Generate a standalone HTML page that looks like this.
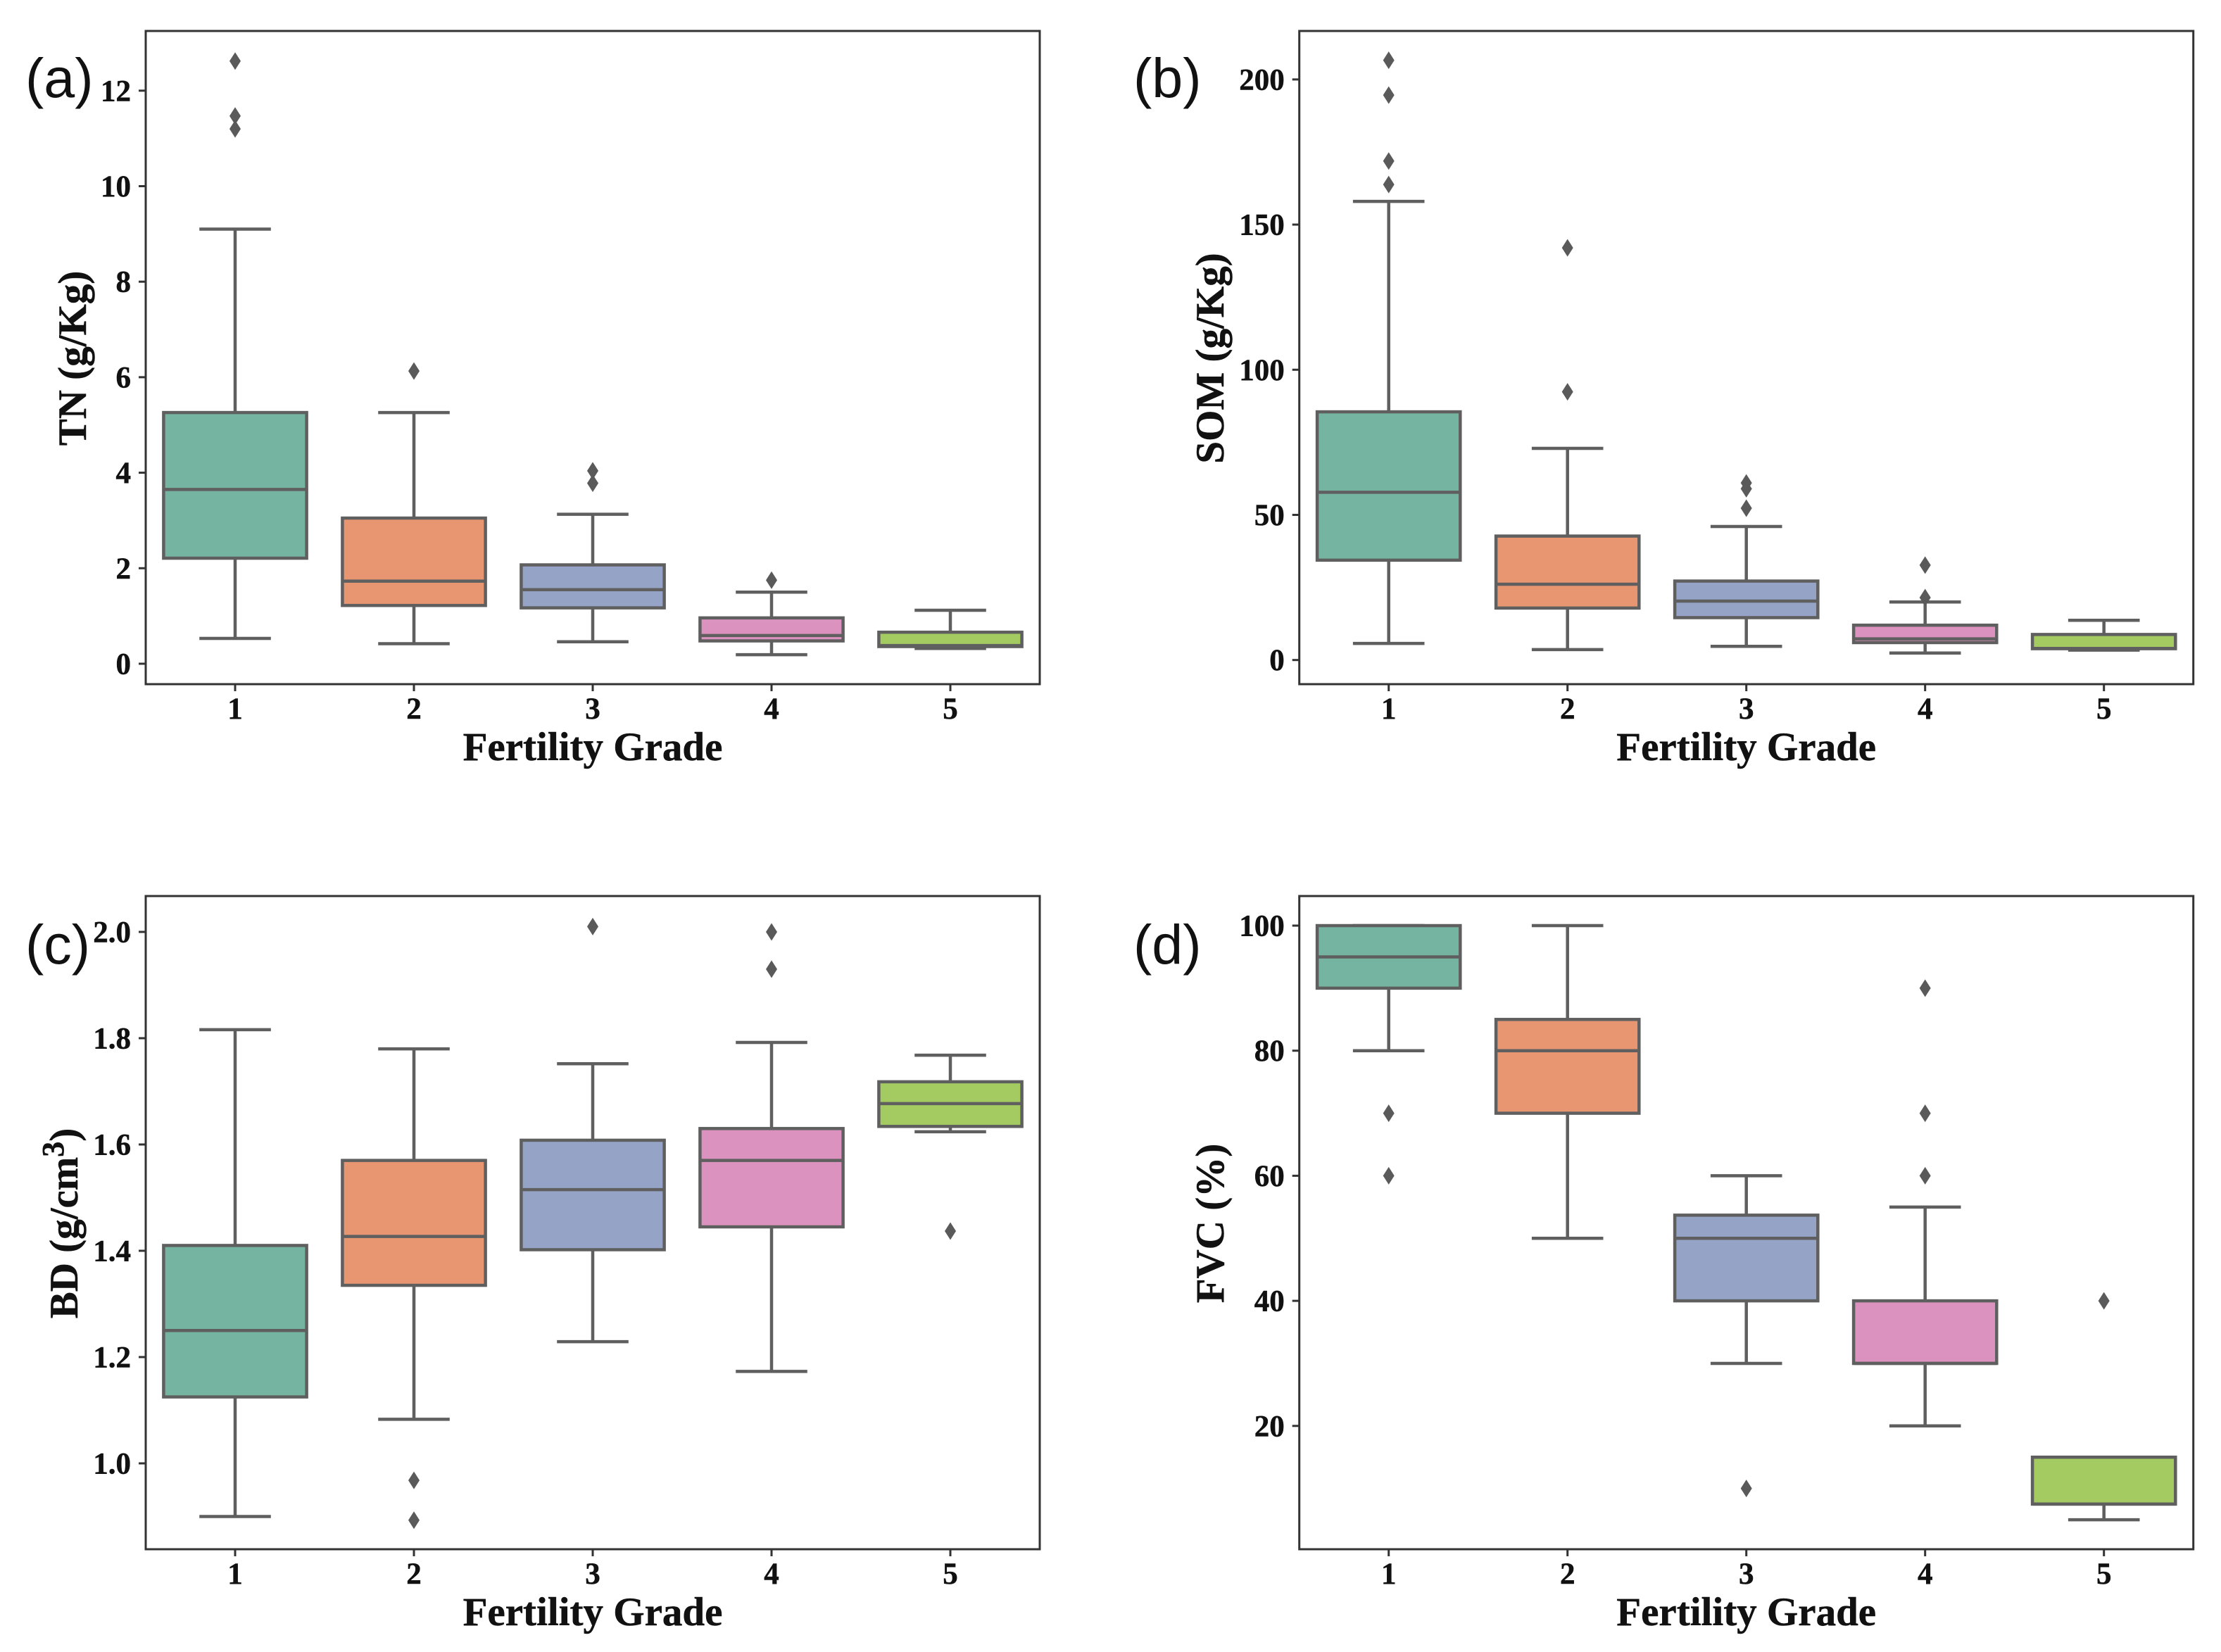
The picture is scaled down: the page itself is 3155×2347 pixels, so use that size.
<!DOCTYPE html>
<html lang="en">
<head>
<meta charset="utf-8">
<title>Soil properties by fertility grade</title>
<style>
html,body{margin:0;padding:0;background:#fff;}
svg{display:block;}
text{font-family:"Liberation Serif",serif;font-weight:bold;fill:#111;stroke:#111;stroke-width:.5px;}
.panel-letter{font-family:"Liberation Sans",sans-serif;font-weight:normal;font-size:79px;stroke:none;}
</style>
</head>
<body>
<svg id="figure" width="3155" height="2347" viewBox="0 0 3155 2347" xmlns="http://www.w3.org/2000/svg"></svg>
<script>
const grades = ['1','2','3','4','5'];
const boxColors = ['#74b4a0','#e89672','#94a3c6','#dc92be','#a3cb62'];

const tnTicks = [0,2,4,6,8,10,12];
const tnHigh = [9.1,5.26,3.13,1.5,1.12];
const tnQ3 = [5.26,3.05,2.07,0.96,0.66];
const tnMedian = [3.65,1.73,1.55,0.59,0.38];
const tnQ1 = [2.21,1.22,1.17,0.478,0.36];
const tnLow = [0.53,0.42,0.46,0.19,0.32];
const tnFliers = [[12.62,11.47,11.2],[6.13],[4.04,3.78],[1.75],[]];

const somTicks = [0,50,100,150,200];
const somHigh = [158,72.9,46,20,13.7];
const somQ3 = [85.5,42.7,27.2,12,8.8];
const somMedian = [57.8,26.1,20.3,7.3,4];
const somQ1 = [34.4,17.9,14.6,6,3.9];
const somLow = [5.7,3.6,4.7,2.4,3.4];
const somFliers = [[206.6,194.6,171.9,163.8],[142,92.4],[61,59,52.3],[32.7,21.5],[]];

const bdTicks = ['1.0','1.2','1.4','1.6','1.8','2.0'];
const bdHigh = [1.816,1.78,1.752,1.792,1.768];
const bdQ3 = [1.41,1.57,1.608,1.63,1.718];
const bdMedian = [1.25,1.427,1.515,1.57,1.677];
const bdQ1 = [1.125,1.335,1.402,1.445,1.634];
const bdLow = [0.9,1.083,1.229,1.173,1.624];
const bdFliers = [[],[0.968,0.893],[2.01],[2.0,1.93],[1.437]];

const fvcTicks = [20,40,60,80,100];
const fvcHigh = [100,100,60,55,15];
const fvcQ3 = [100,85,53.7,40,15];
const fvcMedian = [95,80,50,30,7.5];
const fvcQ1 = [90,70,40,30,7.5];
const fvcLow = [80,50,30,20,5];
const fvcFliers = [[70,60],[],[10],[90,70,60],[40]];

const NS = 'http://www.w3.org/2000/svg';
const LINE = '#5f5f5f';
const root = document.getElementById('figure');

function make(parent, tag, attrs, text) {
  const el = document.createElementNS(NS, tag);
  for (const k in attrs) el.setAttribute(k, attrs[k]);
  if (text !== undefined) el.textContent = text;
  parent.appendChild(el);
  return el;
}

function drawPanel(p) {
  const g = make(root, 'g', {});
  
  

  const W = 1270, H = 928;
  const left = p.left, top = p.top, right = left + W, bottom = top + H;
  const xBand = W / grades.length;
  const x = i => left + (i + 0.5) * xBand;
  const y = v => bottom - (Number(v) - p.yMin) / (p.yMax - p.yMin) * H;

  const frame = make(g, 'rect', {x:left, y:top, width:W, height:H, fill:'#fff', stroke:'#333', 'stroke-width':3});
  
  

  p.ticks.forEach(t => {
    const tick = make(g, 'line', {x1:left - 10, x2:left, y1:y(t), y2:y(t), stroke:'#333', 'stroke-width':3});
    
    
    const lab = make(g, 'text', {x:left - 21, y:y(t) + 14.5, 'text-anchor':'end', 'font-size':43}, String(t));
    
    
  });

  grades.forEach((name, i) => {
    const cx = x(i);
    const tick = make(g, 'line', {x1:cx, x2:cx, y1:bottom, y2:bottom + 10, stroke:'#333', 'stroke-width':3});
    
    
    const lab = make(g, 'text', {x:cx, y:bottom + 49, 'text-anchor':'middle', 'font-size':43}, name);
    
    

    const box = make(g, 'g', {});
    
    
    const sw = 4.5, boxW = xBand * 0.8, capW = xBand * 0.4;
    make(box, 'line', {x1:cx, x2:cx, y1:y(p.high[i]), y2:y(p.q3[i]), stroke:LINE, 'stroke-width':sw});
    make(box, 'line', {x1:cx, x2:cx, y1:y(p.q1[i]), y2:y(p.low[i]), stroke:LINE, 'stroke-width':sw});
    make(box, 'line', {x1:cx - capW / 2, x2:cx + capW / 2, y1:y(p.high[i]), y2:y(p.high[i]), stroke:LINE, 'stroke-width':sw});
    make(box, 'line', {x1:cx - capW / 2, x2:cx + capW / 2, y1:y(p.low[i]), y2:y(p.low[i]), stroke:LINE, 'stroke-width':sw});
    make(box, 'rect', {x:cx - boxW / 2, y:y(p.q3[i]), width:boxW, height:y(p.q1[i]) - y(p.q3[i]), fill:boxColors[i], stroke:LINE, 'stroke-width':sw});
    make(box, 'line', {x1:cx - boxW / 2, x2:cx + boxW / 2, y1:y(p.median[i]), y2:y(p.median[i]), stroke:LINE, 'stroke-width':sw});
    p.fliers[i].forEach(v => {
      const py = y(v);
      const pts = [[cx, py - 12.5], [cx + 8, py], [cx, py + 12.5], [cx - 8, py]].map(a => a.join(',')).join(' ');
      const d = make(box, 'polygon', {points:pts, fill:'#5a5a5a'});
      
      
    });
  });

  const xTitle = make(g, 'text', {x:left + W / 2, y:bottom + 108, 'text-anchor':'middle', 'font-size':57}, 'Fertility Grade');
  
  

  const cy = top + H / 2 + 1;
  const yTitle = make(g, 'text', {x:p.titleX, y:cy, 'text-anchor':'middle', 'font-size':57, transform:'rotate(-90 ' + p.titleX + ' ' + cy + ')'});
  
  
  make(yTitle, 'tspan', {}, p.title);
  if (p.sup) {
    make(yTitle, 'tspan', {dy:-20, 'font-size':44}, p.sup);
    make(yTitle, 'tspan', {dy:20}, ')');
  }

  const letter = make(g, 'text', {x:p.letterX, y:p.letterY, class:'panel-letter'}, p.letter);
  
  
}

drawPanel({key:'tn', letter:'(a)', left:207, top:44, yMin:-0.428, yMax:13.25, title:'TN (g/Kg)', titleX:122, letterX:36, letterY:138,
  ticks:tnTicks, high:tnHigh, q3:tnQ3, median:tnMedian, q1:tnQ1, low:tnLow, fliers:tnFliers});
drawPanel({key:'som', letter:'(b)', left:1845.7, top:44, yMin:-8.32, yMax:216.7, title:'SOM (g/Kg)', titleX:1738, letterX:1610, letterY:138,
  ticks:somTicks, high:somHigh, q3:somQ3, median:somMedian, q1:somQ1, low:somLow, fliers:somFliers});
drawPanel({key:'bd', letter:'(c)', left:207, top:1273, yMin:0.8384, yMax:2.0675, title:'BD (g/cm', sup:'3', titleX:110, letterX:36, letterY:1369,
  ticks:bdTicks, high:bdHigh, q3:bdQ3, median:bdMedian, q1:bdQ1, low:bdLow, fliers:bdFliers});
drawPanel({key:'fvc', letter:'(d)', left:1845.7, top:1273, yMin:0.28, yMax:104.73, title:'FVC (%)', titleX:1738, letterX:1610, letterY:1369,
  ticks:fvcTicks, high:fvcHigh, q3:fvcQ3, median:fvcMedian, q1:fvcQ1, low:fvcLow, fliers:fvcFliers});
</script>
</body>
</html>
